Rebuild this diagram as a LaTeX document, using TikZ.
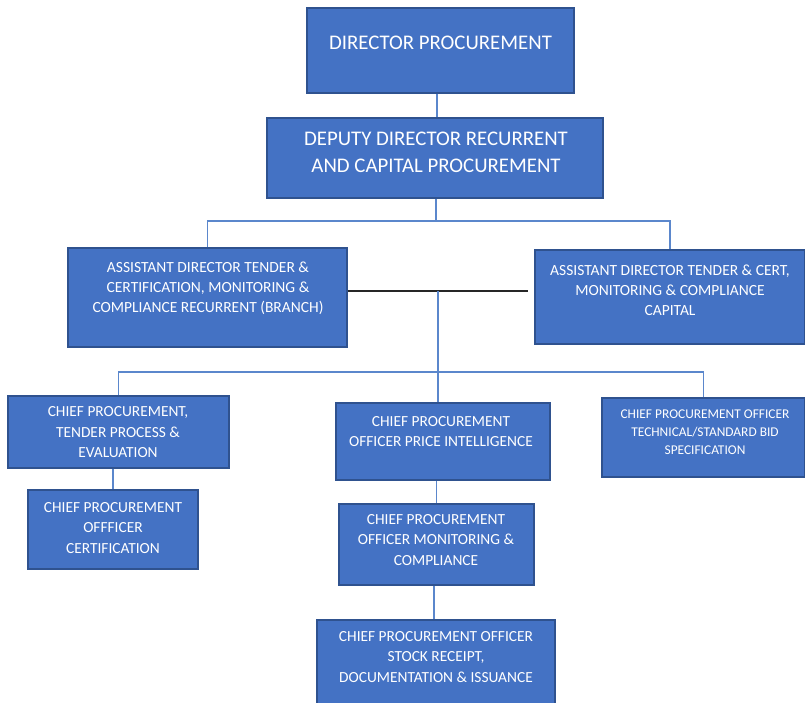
\documentclass[tikz,border=0pt]{standalone}
\usepackage{fontspec}
\setmainfont{Carlito}
\definecolor{boxfill}{HTML}{4472C4}
\definecolor{boxedge}{HTML}{2F528F}
\definecolor{linkblue}{HTML}{5B87CC}
\tikzset{
  box/.style={draw=boxedge, fill=boxfill, line width=1.3pt, inner sep=0pt, rectangle},
  txt/.style={text=white, align=center, inner sep=0pt},
  big/.style={txt, font=\fontsize{20.8}{27}\selectfont},
  mid/.style={txt, font=\fontsize{15.5}{20}\selectfont},
  small/.style={txt, font=\fontsize{15.4}{20.5}\selectfont},
  tiny/.style={txt, font=\fontsize{13.4}{18}\selectfont},
  conn/.style={draw=linkblue, line width=1.2pt},
  blk/.style={draw=black!85, line width=1.5pt}
}
\begin{document}
\begin{tikzpicture}[x=1pt,y=-1pt]
\useasboundingbox (0,0) rectangle (805,702);
% boxes
\node[box, minimum width=267, minimum height=85] (dir) at (440.5,50.5) {};
\node[box, minimum width=336, minimum height=80] (dep) at (435,158) {};
\node[box, minimum width=279, minimum height=99] (adl) at (207.5,297.5) {};
\node[box, minimum width=270, minimum height=94] (adr) at (670,297) {};
\node[box, minimum width=221, minimum height=72] (c1) at (118.5,432) {};
\node[box, minimum width=170, minimum height=79] (cert) at (113,529.5) {};
\node[box, minimum width=214, minimum height=77] (price) at (443,441.5) {};
\node[box, minimum width=195, minimum height=81] (mon) at (436.5,544.5) {};
\node[box, minimum width=238, minimum height=84] (stock) at (436,662) {};
\node[box, minimum width=203, minimum height=79] (tech) at (703.5,437.5) {};
% texts
\node[big] (tdir) at (440.5,43) {DIRECTOR PROCUREMENT};
\node[big] (tdep) at (436,152.5) {DEPUTY DIRECTOR RECURRENT\\AND CAPITAL PROCUREMENT};
\node[mid] (tadl) at (208,288) {ASSISTANT DIRECTOR TENDER \&\\CERTIFICATION, MONITORING \&\\COMPLIANCE RECURRENT (BRANCH)};
\node[mid] (tadr) at (670,290) {ASSISTANT DIRECTOR TENDER \& CERT,\\MONITORING \& COMPLIANCE\\CAPITAL};
\node[small] (tc1) at (118,432.5) {CHIEF PROCUREMENT,\\TENDER PROCESS \&\\EVALUATION};
\node[small] (tcert) at (113,528) {CHIEF PROCUREMENT\\OFFFICER\\CERTIFICATION};
\node[small] (tprice) at (441,431.5) {CHIEF PROCUREMENT\\OFFICER PRICE INTELLIGENCE};
\node[small] (tmon) at (436,540) {CHIEF PROCUREMENT\\OFFICER MONITORING \&\\COMPLIANCE};
\node[small] (tstock) at (436,657) {CHIEF PROCUREMENT OFFICER\\STOCK RECEIPT,\\DOCUMENTATION \& ISSUANCE};
\node[tiny] (ttech) at (705,432) {CHIEF PROCUREMENT OFFICER\\TECHNICAL/STANDARD BID\\SPECIFICATION};
% junction coordinates
\coordinate (bus1) at (436,221);
\coordinate (j) at (438,291);
\coordinate (bus2) at (438,372);
% connectors
\draw[conn] (437,0 |- dir.south) coordinate (d0) -- (d0 |- dep.north);
\draw[conn] (dep.south -| bus1) -- (bus1);
\draw[conn] (adl.north) |- (bus1) -| (adr.north);
\draw[blk, shorten >=6pt] (adl.east |- j) -- (adr.west |- j);
\draw[conn] (j) -- (j |- price.north);
\draw[conn] (c1.north) |- (bus2) -| (tech.north);
\draw[conn] (cert.north |- c1.south) -- (cert.north);
\draw[conn] (mon.north |- price.south) -- (mon.north);
\draw[conn] (mon.south -| 434,0) coordinate (m0) -- (m0 |- stock.north);
\end{tikzpicture}
\end{document}
